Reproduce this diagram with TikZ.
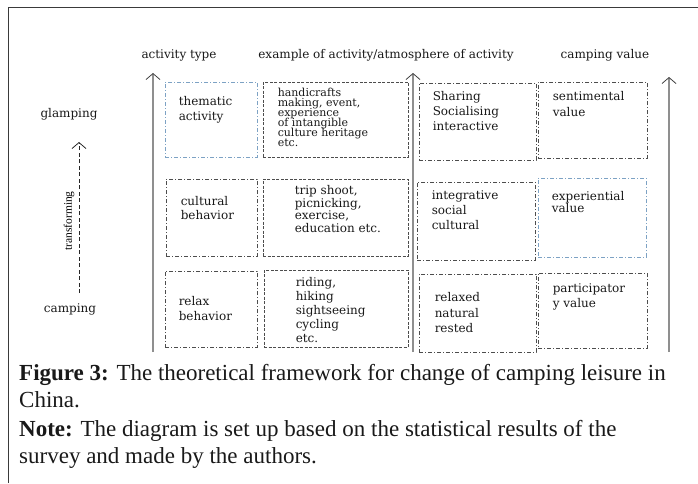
\documentclass[tikz,border=0pt]{standalone}
\usepackage{fontspec}
\setmainfont{Liberation Serif}
\newfontfamily\diagfont{DejaVu Serif}
\usetikzlibrary{positioning, arrows.meta, calc}
\usepackage{xcolor}

\definecolor{boxgray}{HTML}{4D4D4D}
\definecolor{boxblue}{HTML}{7DA2C4}
\definecolor{axisgray}{HTML}{8F8F8F}
\definecolor{framegray}{HTML}{3A3A3A}

\newcommand{\cellfont}[2][12]{\diagfont\fontsize{#1}{#2}\selectfont\lineskiplimit=-20pt\relax}

\begin{document}
\begin{tikzpicture}[
    x=1pt, y=1pt,
    cell/.style={draw=boxgray, line width=0.9pt, dash pattern=on 4pt off 2pt on 1pt off 2pt, inner sep=0pt},
    dashcell/.style={cell, dash pattern=on 3pt off 1.5pt},
    bluecell/.style={cell, draw=boxblue},
    txt/.style={font={\cellfont{#1}}, align=left, inner sep=0pt, text=black!90},
    txt/.default=15,
    head/.style={font=\diagfont\fontsize{12}{14}\selectfont, inner sep=0pt, text=black!90},
    axis/.style={draw=axisgray, line width=1.3pt, -{Straight Barb[length=6pt, width=14pt, line width=0.8pt, color=black!75]}},
    trend/.style={draw=black!85, line width=0.9pt, dash pattern=on 4pt off 2.5pt, -{Straight Barb[length=6pt, width=14pt, line width=0.8pt]}},
    caption/.style={font=\fontsize{23}{27}\selectfont, align=left, inner sep=0pt, anchor=north west, text=black!90}
]
    \useasboundingbox (0,0) rectangle (698,-483);

    % Frame
    \draw[framegray, line width=1pt] (8,-483) -- (8,-7) -- (698,-7);

    % Column heads
    \node[head] (typehead) at (179,-55) {activity type};
    \node[head] (examplehead) at (386,-55) {example of activity/atmosphere of activity};
    \node[head] (valuehead) at (605,-55) {camping value};

    % Left side
    \node[head] (glamping) at (69,-114) {glamping};
    \node[head] (camping) at (70,-309) {camping};
    \coordinate (trendbot) at (79,-293);
    \coordinate (trendtop) at (79,-142);
    \node[font=\fontsize{11.5}{13}\selectfont, rotate=90, inner sep=0pt] (transforming) at (69,-221) {transforming};

    % Row 1
    \node[bluecell, minimum width=92, minimum height=75] (thematic) at (211,-119.5) {};
    \node[dashcell, minimum width=145, minimum height=75] (handicraft) at (335.5,-119.5) {};
    \node[cell, minimum width=117, minimum height=77] (sharing) at (477.5,-121.5) {};
    \node[cell, minimum width=109, minimum height=76] (sentimental) at (592.5,-120) {};

    % Row 2
    \node[cell, minimum width=91, minimum height=77] (cultural) at (211.5,-217.5) {};
    \node[dashcell, minimum width=145, minimum height=77] (tripshoot) at (335.5,-217.5) {};
    \node[cell, minimum width=118, minimum height=78] (integrative) at (476,-221) {};
    \node[bluecell, minimum width=108, minimum height=79] (experiential) at (592,-217.5) {};

    % Row 3
    \node[cell, minimum width=92, minimum height=76] (relax) at (211,-309) {};
    \node[dashcell, minimum width=144, minimum height=77] (riding) at (336,-308.5) {};
    \node[cell, minimum width=117, minimum height=78] (relaxed) at (477.5,-313) {};
    \node[cell, minimum width=109, minimum height=75] (participatory) at (592.5,-310.5) {};

    % Cell texts
    \node[txt, below right=15pt and 14pt of thematic.north west] (thematictxt) {thematic\\activity};
    \node[txt, font={\cellfont[11]{10}}, below right=6pt and 15pt of handicraft.north west] (handicrafttxt) {handicrafts\\making, event,\\experience\\of intangible\\culture heritage\\etc.};
    \node[txt, below right=9pt and 14pt of sharing.north west] (sharingtxt) {Sharing\\Socialising\\interactive};
    \node[txt=16, below right=10pt and 15pt of sentimental.north west] (sentimentaltxt) {sentimental\\value};

    \node[txt=14, below right=18pt and 15pt of cultural.north west] (culturaltxt) {cultural\\behavior};
    \node[txt=12.5, below right=7pt and 32pt of tripshoot.north west] (tripshoottxt) {trip shoot,\\picnicking,\\exercise,\\education etc.};
    \node[txt, below right=9pt and 15pt of integrative.north west] (integrativetxt) {integrative\\social\\cultural};
    \node[txt=12, below right=14pt and 14pt of experiential.north west] (experientialtxt) {experiential\\value};

    \node[txt, below right=26pt and 14pt of relax.north west] (relaxtxt) {relax\\behavior};
    \node[txt=13.8, below right=8pt and 32pt of riding.north west] (ridingtxt) {riding,\\hiking\\sightseeing\\cycling\\etc.};
    \node[txt=15.5, below right=19pt and 16pt of relaxed.north west] (relaxedtxt) {relaxed\\natural\\rested};
    \node[txt, below right=11pt and 15pt of participatory.north west] (participatorytxt) {participator\\y value};

    % Axes
    \coordinate (typebot) at (153,-352);
    \coordinate (typetop) at (153,-73);
    \coordinate (examplebot) at (413,-352);
    \coordinate (exampletop) at (413,-73);
    \coordinate (valuebot) at (669,-352);
    \coordinate (valuetop) at (669,-77);

    % Caption
    \node[caption] (figcaption) at (19,-364) {\textbf{Figure 3:} The theoretical framework for change of camping leisure in\\China.};
    \node[caption, below=12pt of figcaption.south west, anchor=north west] (note) {\textbf{Note:} The diagram is set up based on the statistical results of the\\survey and made by the authors.};

    % Arrows
    \draw[axis] (typebot) -- (typetop);
    \draw[axis] (examplebot) -- (exampletop);
    \draw[axis] (valuebot) -- (valuetop);
    \draw[trend] (trendbot) -- (trendtop);

\end{tikzpicture}
\end{document}
